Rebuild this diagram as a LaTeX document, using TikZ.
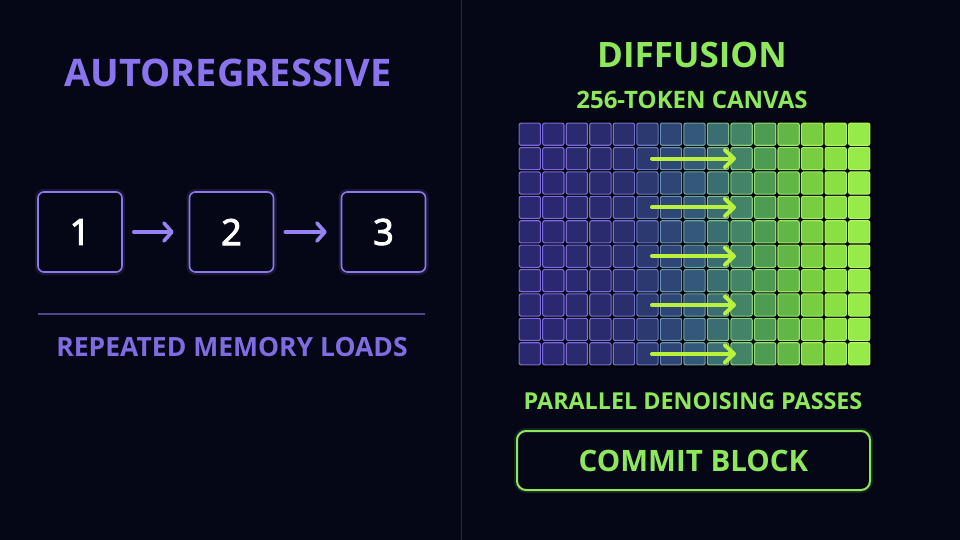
\documentclass[tikz,border=0pt]{standalone}
\usepackage{fontspec}
\setmainfont{Open Sans}
\newfontface\numfont[FakeBold=3]{Open Sans}
\usetikzlibrary{arrows.meta}
\definecolor{bg}{HTML}{060716}
\definecolor{purp}{HTML}{8A74EE}
\definecolor{purpdim}{HTML}{7E6CE0}
\definecolor{boxline}{HTML}{8C78E8}
\definecolor{arrowc}{HTML}{9682F4}
\definecolor{sepline}{HTML}{4F4490}
\definecolor{divider}{HTML}{26284E}
\definecolor{grn}{HTML}{8EE85C}
\definecolor{grnarrow}{HTML}{B8F23C}
\definecolor{gridbg}{HTML}{02030A}
\definecolor{f0}{HTML}{2B2870}\definecolor{b0}{HTML}{7B6BD8}
\definecolor{f1}{HTML}{2A2870}\definecolor{b1}{HTML}{7B6BD8}
\definecolor{f2}{HTML}{2A2A6E}\definecolor{b2}{HTML}{786CD4}
\definecolor{f3}{HTML}{2A2B6C}\definecolor{b3}{HTML}{746CD0}
\definecolor{f4}{HTML}{2B2E6C}\definecolor{b4}{HTML}{7070CC}
\definecolor{f5}{HTML}{2C3870}\definecolor{b5}{HTML}{6878C0}
\definecolor{f6}{HTML}{2E4676}\definecolor{b6}{HTML}{6890B0}
\definecolor{f7}{HTML}{33587A}\definecolor{b7}{HTML}{70A0A0}
\definecolor{f8}{HTML}{3A6E70}\definecolor{b8}{HTML}{7CBA90}
\definecolor{f9}{HTML}{438468}\definecolor{b9}{HTML}{88CC80}
\definecolor{f10}{HTML}{4E9C54}\definecolor{b10}{HTML}{92D870}
\definecolor{f11}{HTML}{62B646}\definecolor{b11}{HTML}{9AE460}
\definecolor{f12}{HTML}{78CE40}\definecolor{b12}{HTML}{A4EC58}
\definecolor{f13}{HTML}{8AE042}\definecolor{b13}{HTML}{ACF25A}
\definecolor{f14}{HTML}{96EA4A}\definecolor{b14}{HTML}{B4F664}
\tikzset{
  numbox/.style={draw=boxline, line width=1.6pt, rounded corners=6pt, fill=bg,
    minimum width=84pt, minimum height=80pt, inner sep=0pt, text=white,
    font=\fontsize{36}{36}\numfont},
  glowbox/.style={draw=boxline, line width=6pt, rounded corners=6pt, opacity=0.15,
    minimum width=84pt, minimum height=80pt, inner sep=0pt},
  flow/.style={draw=arrowc, line width=3.6pt, line cap=round, line join=round,
    -{Straight Barb[length=8pt,width=18pt,round]}},
  cell/.style={rounded corners=2pt, line width=1.1pt, minimum width=21.3pt,
    minimum height=22.2pt, inner sep=0pt},
  pass/.style={draw=grnarrow, line width=4pt, line cap=round, line join=round,
    -{Straight Barb[length=9pt,width=17pt,round]}},
  ptitle/.style={text=purp, font=\fontsize{38}{38}\selectfont\bfseries},
  gtitle/.style={text=grn, font=\fontsize{35}{35}\selectfont\bfseries},
  plabel/.style={text=purpdim, font=\fontsize{26.5}{26.5}\selectfont\bfseries},
  glabel/.style={text=grn, font=\fontsize{24}{24}\selectfont\bfseries},
}
\begin{document}
\begin{tikzpicture}[x=1pt,y=-1pt]
\fill[bg] (0,0) rectangle (960,540);
\useasboundingbox (0,0) rectangle (960,540);
% divider
\draw[divider, line width=1pt] (461,0) -- (461,540);

% ---- left panel
\node[ptitle] (artitle) at (228,73) {AUTOREGRESSIVE};
\foreach \n/\x in {1/80,2/231.5,3/383.5}{
  \node[glowbox] at (\x,232) {};
}
\node[numbox] (b1) at (80,232) {1};
\node[numbox] (b2) at (231.5,232) {2};
\node[numbox] (b3) at (383.5,232) {3};
\draw[flow, shorten <=11pt, shorten >=15pt] (b1) -- (b2);
\draw[flow, shorten <=11pt, shorten >=14pt] (b2) -- (b3);
\coordinate (sepL) at (38,314);
\coordinate (sepR) at (425,314);
\draw[sepline, line width=1.2pt] (sepL) -- (sepR);
\node[plabel] (mem) at (232,347) {REPEATED MEMORY LOADS};

% ---- right panel
\node[gtitle] (dtitle) at (692,55) {DIFFUSION};
\node[glabel] (canvas) at (692,100) {256-TOKEN CANVAS};
\fill[gridbg] (516.5,120.5) rectangle (872.5,367.5);
\foreach \c in {0,...,14}{
  \foreach \r in {0,...,9}{
    \node[cell, fill=f\c, draw=b\c] (c\c-\r) at ({529.8+23.53*\c},{134.2+24.4*\r}) {};
  }
}
\foreach \r in {1,3,5,7,9}{
  \coordinate (ps\r) at (652,{134.2+24.4*\r});
  \coordinate (pe\r) at (736,{134.2+24.4*\r});
  \draw[pass] (ps\r) -- (pe\r);
}
\node[text=grn, font=\fontsize{23.3}{23.3}\selectfont\bfseries] (par) at (693,401) {PARALLEL DENOISING PASSES};
\draw[grn, line width=6pt, rounded corners=9pt, opacity=0.12] (517,431) rectangle (870,490);
\node[draw=grn, line width=2pt, rounded corners=9pt, fill=bg, minimum width=353pt,
  minimum height=59pt, inner sep=0pt, text=grn, font=\fontsize{29.5}{29.5}\selectfont\bfseries]
  (commit) at (693.5,460.5) {COMMIT BLOCK};
\end{tikzpicture}
\end{document}
